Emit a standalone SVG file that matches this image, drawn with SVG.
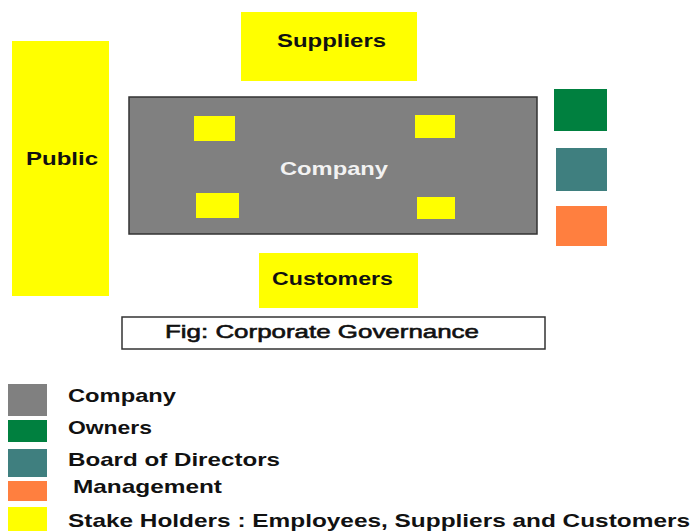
<svg xmlns="http://www.w3.org/2000/svg" width="691" height="531" viewBox="0 0 691 531">
<style>
.y{fill:#ffff00}
.t{font-family:"Liberation Sans",Arial,sans-serif;font-weight:bold;font-size:19px;fill:#111}
.w{font-family:"Liberation Sans",Arial,sans-serif;font-weight:bold;font-size:19px;fill:#f2f2f2}
.f{font-family:"Liberation Sans",Arial,sans-serif;font-size:19px;fill:#111;stroke:#111;stroke-width:0.6}
</style>
<rect width="691" height="531" fill="#ffffff"/>
<g id="public"><rect class="y" x="12" y="41" width="97" height="255"/><text class="t" x="26" y="165" textLength="72" lengthAdjust="spacingAndGlyphs">Public</text></g>
<g id="suppliers"><rect class="y" x="241" y="12" width="176" height="69"/><text class="t" x="277" y="47" textLength="109" lengthAdjust="spacingAndGlyphs">Suppliers</text></g>
<g id="company"><rect x="129" y="97" width="408" height="137" fill="#808080" stroke="#333" stroke-width="1.5"/>
<rect class="y" x="194" y="116" width="41" height="25"/>
<rect class="y" x="196" y="193" width="43" height="25"/>
<rect class="y" x="415" y="115" width="40" height="23"/>
<rect class="y" x="417" y="197" width="38" height="22"/>
<text class="w" x="280" y="175" textLength="108" lengthAdjust="spacingAndGlyphs">Company</text></g>
<g id="customers"><rect class="y" x="259" y="253" width="159" height="55"/><text class="t" x="272" y="285" textLength="121" lengthAdjust="spacingAndGlyphs">Customers</text></g>
<g id="owners"><rect x="554" y="89" width="53" height="42" fill="#00803f"/></g>
<g id="board"><rect x="556" y="148" width="51" height="43" fill="#3f7f7f"/></g>
<g id="management"><rect x="556" y="206" width="51" height="40" fill="#ff7f3f"/></g>
<g id="caption"><rect x="122" y="317" width="423" height="32" fill="none" stroke="#333" stroke-width="1.5"/><text class="f" x="165" y="338" textLength="314" lengthAdjust="spacingAndGlyphs">Fig: Corporate Governance</text></g>
<g id="legend">
<rect x="8" y="384" width="39" height="32" fill="#808080"/>
<rect x="8" y="420" width="39" height="22" fill="#00803f"/>
<rect x="8" y="449" width="39" height="28" fill="#3f7f7f"/>
<rect x="8" y="481" width="39" height="20" fill="#ff7f3f"/>
<rect x="8" y="507" width="39" height="24" fill="#ffff00"/>
<text class="t" x="68" y="402" textLength="108" lengthAdjust="spacingAndGlyphs">Company</text>
<text class="t" x="68" y="434" textLength="84" lengthAdjust="spacingAndGlyphs">Owners</text>
<text class="t" x="68" y="466" textLength="212" lengthAdjust="spacingAndGlyphs">Board of Directors</text>
<text class="t" x="73" y="493" textLength="149" lengthAdjust="spacingAndGlyphs">Management</text>
<text class="t" x="68" y="527" textLength="622" lengthAdjust="spacingAndGlyphs">Stake Holders : Employees, Suppliers and Customers</text>
</g>
<g id="connectors"/>
</svg>
